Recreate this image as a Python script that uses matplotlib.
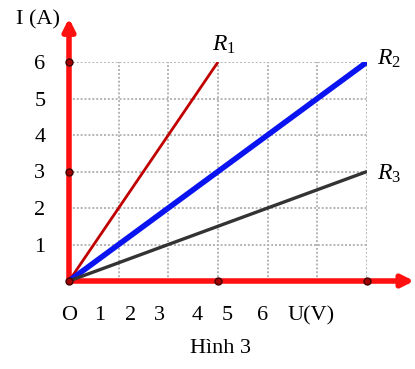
import matplotlib.pyplot as plt

plt.rcParams['font.family'] = ['Liberation Serif', 'DejaVu Serif']
plt.rcParams['mathtext.fontset'] = 'custom'
plt.rcParams['mathtext.rm'] = 'Liberation Serif'
plt.rcParams['mathtext.it'] = 'Liberation Serif:italic'

# grid units: 6 columns on x, current 0..6 A on y
x_end = [3, 6, 6]
i_end = [6, 6, 3]
names = ['$R_1$', '$R_2$', '$R_3$']
colors = ['#c00000', '#0a14f0', '#333333']
widths = [2.0, 4.0, 2.4]

# tick labels under the U axis (placed as in the original figure)
x_tick_pos = [0, 0.62, 1.23, 1.83, 2.58, 3.18, 3.9, 4.87]
x_tick_lab = ['O', '1', '2', '3', '4', '5', '6', 'U(V)']
y_ticks = [1, 2, 3, 4, 5, 6]

# marked points on the axes
dots_x = [0, 0, 0, 3, 6]
dots_y = [0, 3, 6, 0, 0]

fig = plt.figure(figsize=(4.15, 3.69), dpi=100)
ax = fig.add_axes([69/415, 88/369, 298/415, 219/369])
ax.set_xlim(0, 6)
ax.set_ylim(0, 6)
for s in ax.spines.values():
    s.set_visible(False)

# dotted grid
ax.hlines(y_ticks, 0, 6.1, colors='#b4b4b4', linestyles=(0, (1, 1)), lw=1.4, zorder=1)
ax.vlines(range(1, 7), 0, 6, colors='#b4b4b4', linestyles=(0, (1, 1)), lw=1.4, zorder=1)

# axes arrows
ax.annotate('', xy=(6.95, 0), xytext=(0, 0), annotation_clip=False,
            arrowprops=dict(arrowstyle='-|>,head_length=0.7,head_width=0.35',
                            color='#ff1010', lw=4, shrinkA=0, shrinkB=0), zorder=3)
ax.annotate('', xy=(0, 7.2), xytext=(0, 0), annotation_clip=False,
            arrowprops=dict(arrowstyle='-|>,head_length=0.7,head_width=0.35',
                            color='#ff1010', lw=4, shrinkA=0, shrinkB=0), zorder=3)

# characteristic lines
for xe, ie, c, w in zip(x_end, i_end, colors, widths):
    ax.plot([0, xe], [0, ie], color=c, lw=w, solid_capstyle='butt', zorder=4)

ax.plot(dots_x, dots_y, 'o', ms=5, mfc='#a00000', mec='#400000', mew=1, zorder=5, clip_on=False)

# line labels
ax.text(x_end[0] - 0.12, i_end[0] + 0.3, names[0], fontsize=17)
ax.text(x_end[1] + 0.2, i_end[1] - 0.08, names[1], fontsize=17)
ax.text(x_end[2] + 0.2, i_end[2] - 0.22, names[2], fontsize=17)

ax.set_xticks(x_tick_pos, x_tick_lab, fontsize=16)
ax.set_yticks(y_ticks, [str(v) for v in y_ticks], fontsize=16)
ax.tick_params(length=0, pad=17, axis='y')
ax.tick_params(length=0, pad=18, axis='x')

ax.text(-0.62, 7.15, 'I (A)', fontsize=16, ha='center', va='center')
ax.text(3.05, -1.85, 'Hình 3', fontsize=16, ha='center', va='center')

fig.savefig('out.png', dpi=100)
